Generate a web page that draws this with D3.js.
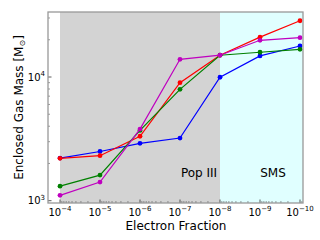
<!DOCTYPE html>
<html><head><meta charset="utf-8">
<script src="https://cdn.jsdelivr.net/npm/d3@7"></script>
<style>body{margin:0;background:#fff}svg{display:block;font-family:"DejaVu Sans",sans-serif}</style>
</head><body>
<svg id="c" width="320" height="240"></svg>
<script>
const xFractions = [1e-4, 1e-5, 1e-6, 1e-7, 1e-8, 1e-9, 1e-10];
const xTickExps = [-4, -5, -6, -7, -8, -9, -10];
const yTickExps = [3, 4];
const seriesNames = ["blue", "red", "green", "magenta"];
const seriesColors = ["#0000ff", "#ff0000", "#008000", "#bf00bf"];
const blueVals = [2210, 2500, 2910, 3210, 9950, 14800, 17800];
const redVals = [2200, 2310, 3320, 9000, 15000, 21000, 28500];
const greenVals = [1310, 1610, 3700, 7950, 15000, 15850, 16750];
const magentaVals = [1105, 1415, 3790, 13900, 15000, 19800, 20800];
const allVals = [blueVals, redVals, greenVals, magentaVals];
const regions = [{label: "Pop III", from: 1e-4, to: 1e-8, color: "#d3d3d3"}, {label: "SMS", from: 1e-8, to: null, color: "#e0ffff"}];

const L = 48, R = 303, T = 12, B = 203;
const svg = d3.select("#c");
const x = d3.scaleLog().domain([Math.pow(10, -3.7), Math.pow(10, -10.075)]).range([L, R]);
const y = d3.scaleLog().domain([Math.pow(10, 3 - 2.3/123.7), Math.pow(10, 4 + 65/123.7)]).range([B, T]);

svg.append("rect").attr("x", L).attr("y", T).attr("width", R - L).attr("height", B - T).attr("fill", "#fff");
regions.forEach(r => {
  const x0 = x(r.from), x1 = r.to === null ? R : x(r.to);
  svg.append("rect").attr("x", x0).attr("y", T).attr("width", x1 - x0).attr("height", B - T).attr("fill", r.color);
});

const minorX = [];
for (let e = -11; e <= -3; e++) for (let k = 2; k <= 9; k++) { const v = k * Math.pow(10, e); if (v <= x.domain()[0] && v >= x.domain()[1]) minorX.push(v); }
const minorY = [];
for (let e = 2; e <= 4; e++) for (let k = 2; k <= 9; k++) { const v = k * Math.pow(10, e); if (v >= y.domain()[0] && v <= y.domain()[1]) minorY.push(v); }

const g = svg.append("g");
minorX.forEach(v => g.append("line").attr("x1", x(v)).attr("x2", x(v)).attr("y1", B).attr("y2", B - 2).attr("stroke", "#555").attr("stroke-width", 0.6));
minorY.forEach(v => g.append("line").attr("x1", L).attr("x2", L + 2).attr("y1", y(v)).attr("y2", y(v)).attr("stroke", "#555").attr("stroke-width", 0.6));
xTickExps.forEach(e => {
  const v = Math.pow(10, e);
  g.append("line").attr("x1", x(v)).attr("x2", x(v)).attr("y1", B).attr("y2", B - 3.5).attr("stroke", "#333").attr("stroke-width", 0.8);
  const t = svg.append("text").attr("x", x(v)).attr("y", 215.5).attr("text-anchor", "middle").attr("font-size", 10).attr("fill", "#000");
  t.append("tspan").text("10");
  t.append("tspan").attr("dy", -4.5).attr("font-size", 7).text("\u2212" + Math.abs(e));
});
yTickExps.forEach(e => {
  const v = Math.pow(10, e);
  g.append("line").attr("x1", L).attr("x2", L + 3.5).attr("y1", y(v)).attr("y2", y(v)).attr("stroke", "#333").attr("stroke-width", 0.8);
  const t = svg.append("text").attr("x", 45).attr("y", y(v) + 3.5).attr("text-anchor", "end").attr("font-size", 10).attr("fill", "#000");
  t.append("tspan").text("10");
  t.append("tspan").attr("dy", -4.5).attr("font-size", 7).text(String(e));
});

regions.forEach(r => {
  const cx = r.label === "Pop III" ? 199 : 273;
  svg.append("text").attr("x", cx).attr("y", 177.3).attr("text-anchor", "middle").attr("font-size", 12).attr("fill", "#000").text(r.label);
});

const line = d3.line().x((d, i) => x(xFractions[i])).y(d => y(d));
allVals.forEach((vals, s) => {
  svg.append("path").datum(vals).attr("d", line).attr("fill", "none").attr("stroke", seriesColors[s]).attr("stroke-width", 1.2);
  svg.selectAll(null).data(vals).enter().append("circle")
    .attr("cx", (d, i) => x(xFractions[i])).attr("cy", d => y(d)).attr("r", 2.4).attr("fill", seriesColors[s]);
});

svg.append("rect").attr("x", L).attr("y", T).attr("width", R - L).attr("height", B - T).attr("fill", "none").attr("stroke", "#999").attr("stroke-width", 1.3);

svg.append("text").attr("x", 176).attr("y", 230).attr("text-anchor", "middle").attr("font-size", 12).attr("fill", "#000").text("Electron Fraction");
const yl = svg.append("text").attr("transform", "translate(22.5,107.5) rotate(-90)").attr("text-anchor", "middle").attr("font-size", 12).attr("fill", "#000");
yl.append("tspan").text("Enclosed Gas Mass [M");
yl.append("tspan").attr("font-size", 8).attr("dy", 2).text("\u2299");
yl.append("tspan").attr("dy", -2).text("]");
</script>
</body></html>
